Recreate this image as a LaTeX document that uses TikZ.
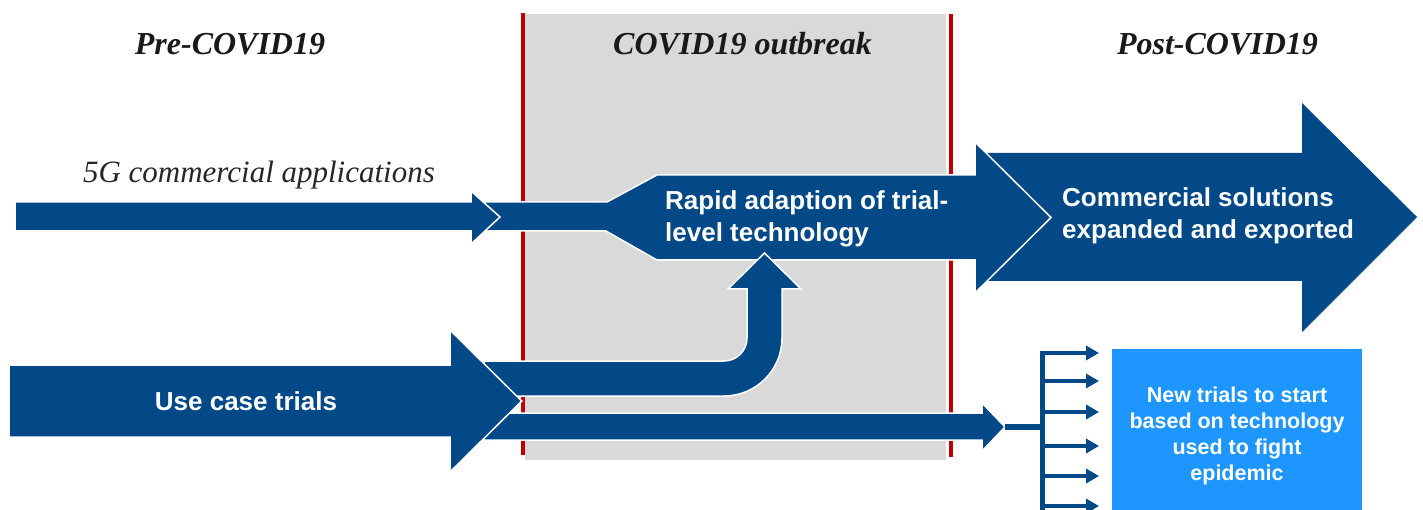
\documentclass[tikz,border=0pt]{standalone}
\usepackage{fontspec}
\setmainfont{Liberation Serif}
\setsansfont{Liberation Sans}
\usetikzlibrary{arrows.meta}
\definecolor{navy}{RGB}{3,73,136}
\definecolor{sky}{RGB}{30,150,255}
\definecolor{outbreak}{RGB}{217,217,217}
\definecolor{border}{RGB}{192,0,0}
\tikzset{
  blockarrow/.style={fill=navy,draw=white,line width=1.5pt},
  phase/.style={font=\fontsize{32}{38}\selectfont\bfseries\itshape,text=black!90,anchor=base,inner sep=0pt},
  inarrow/.style={font=\sffamily\bfseries\fontsize{26}{31.5}\selectfont,text=white,align=left,inner sep=0pt},
  fanline/.style={draw=navy,line width=4.5pt}
}

\begin{document}
\begin{tikzpicture}[x=1pt,y=-1pt]
\clip (0,0) rectangle (1423,510);
\fill[outbreak] (525,14) rectangle (946,460);
\draw[border,line width=4pt] (523,13) -- (523,455) (951,14) -- (951,457);
\draw[blockarrow,draw=none] (986,153) -- (1302,153) -- (1302,103) -- (1417,217) -- (1302,332) -- (1302,281) -- (987,281) -- (1051,217.5) -- cycle;
\draw[blockarrow] (485,202) -- (607,202) -- (657,175) -- (975,175) -- (975,142) -- (1051,217.5) -- (975,293) -- (975,260) -- (657,260) -- (606,231) -- (485,231) -- cycle;
\draw[blockarrow] (15,202) -- (471,202) -- (471,191) -- (500,217) -- (471,244) -- (471,231) -- (15,231) -- cycle;
\draw[blockarrow] (484,361) -- (724,361) .. controls (736.7,361) and (747,350.7) .. (747,338) -- (747,289) -- (728,289) -- (764.5,253) -- (801,289) -- (782,289) -- (782,338) .. controls (782,370) and (756,396) .. (724,396) -- (484,396) -- cycle;
\draw[blockarrow] (484,413) -- (982,413) -- (982,403) -- (1005,427) -- (982,451) -- (982,440) -- (484,440) -- cycle;
\draw[blockarrow] (9,365) -- (450,365) -- (450,330) -- (521.7,401) -- (450,472) -- (450,437) -- (9,437) -- cycle;

\coordinate (trialtip) at (1005,427);
\coordinate (bartop) at (1042.5,350.75);
\coordinate (barend) at (1042.5,515);
\draw[fanline,line width=6pt] (trialtip) -- (trialtip -| bartop);
\draw[fanline] (bartop) -- (barend);
\foreach \yy [count=\i] in {353,381,412,446,476,506}
{
  \coordinate (fan\i) at (1042.5,\yy);
  \coordinate (new\i) at (1099,\yy);
  \draw[fanline,-{Triangle[length=13pt,width=14pt]}] (fan\i) -- (new\i);
}
\fill[sky] (1112,349) rectangle (1362,520);

\node[phase] (pre) at (230,54.5) {Pre-COVID19};
\node[phase] (during) at (742.5,54.5) {COVID19 outbreak};
\node[phase] (post) at (1217.5,54.5) {Post-COVID19};
\node[font=\fontsize{31}{37}\selectfont\itshape,text=black!85,anchor=base,inner sep=0pt] (apps) at (259,183) {5G commercial applications};
\node[inarrow,anchor=west] (rapid) at (665,219) {Rapid adaption of trial-\\level technology};
\node[inarrow,anchor=west] (solutions) at (1062,216) {Commercial solutions\\expanded and exported};
\node[inarrow] (usecase) at (246,401) {Use case trials};
\node[inarrow,align=center,font=\sffamily\bfseries\fontsize{21.5}{26}\selectfont] (newtrials) at (1237,435.5) {New trials to start\\based on technology\\used to fight\\epidemic};
\end{tikzpicture}
\end{document}
